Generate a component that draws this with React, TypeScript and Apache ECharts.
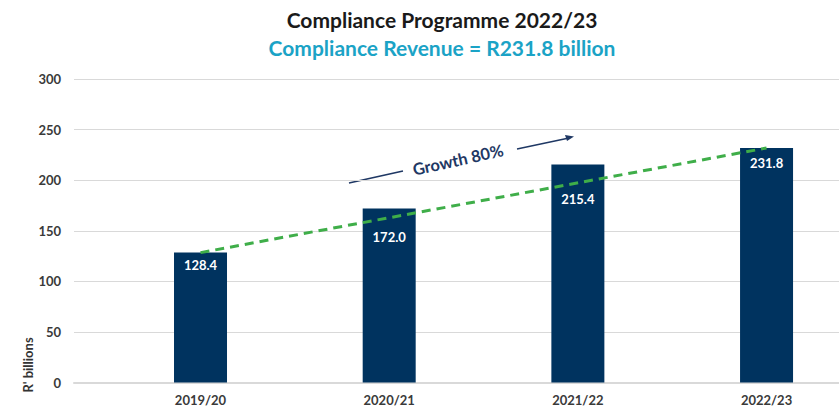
import React, { useEffect, useRef } from "react";
import * as echarts from "echarts";

const categories = ["2019/20", "2020/21", "2021/22", "2022/23"];
const revenue = [128.4, 172.0, 215.4, 231.8];
const yTicks = [0, 50, 100, 150, 200, 250, 300];
const titleText = "Compliance Programme 2022/23";
const subtitleText = "Compliance Revenue = R231.8 billion";
const growthText = "Growth 80%";
const yAxisName = "R' billions";

const FONT = "Lato, 'Open Sans', sans-serif";
const NAVY = "#00335f";
const ARROW = "#1f3864";
// label distance from bar top (styling, moved down where the trend line crosses)
const LABEL_DIST = [6, 22, 28, 9];

export default function App() {
  const ref = useRef<HTMLDivElement>(null);
  useEffect(() => {
    document.body.style.margin = "0";
    if (!ref.current) return;
    const chart = echarts.init(ref.current, null, { renderer: "svg" });
    const trend = [
      [0, revenue[0]],
      [revenue.length - 1, revenue[revenue.length - 1]],
    ];
    chart.setOption({
      animation: false,
      backgroundColor: "#ffffff",
      textStyle: { fontFamily: FONT },
      title: [
        {
          text: titleText,
          left: 437,
          top: 4,
          textAlign: "center",
          textStyle: { fontFamily: FONT, fontSize: 21, fontWeight: "bold", color: "#1a1a1a" },
        },
        {
          text: subtitleText,
          left: 437,
          top: 32,
          textAlign: "center",
          textStyle: { fontFamily: FONT, fontSize: 21, fontWeight: "bold", color: "#1ba3c6" },
        },
      ],
      grid: { left: 74, right: 0, top: 79, bottom: 26.5, containLabel: false },
      xAxis: {
        type: "value",
        min: -0.6705,
        max: 3.384,
        splitLine: { show: false },
        axisTick: { show: false },
        axisLine: { show: true, onZero: false, lineStyle: { color: "#d9d9d9", width: 2 } },
        axisLabel: {
          customValues: [0, 1, 2, 3],
          formatter: (v: number) => categories[Math.round(v)] ?? "",
          fontFamily: FONT,
          fontSize: 13,
          fontWeight: "bold",
          color: "#3a3a3a",
          margin: 11,
        },
      },
      yAxis: {
        type: "value",
        min: yTicks[0],
        max: yTicks[yTicks.length - 1],
        interval: 50,
        axisLine: { show: false },
        axisTick: { show: false },
        splitLine: { lineStyle: { color: "#d9d9d9", width: 1 } },
        axisLabel: {
          fontFamily: FONT,
          fontSize: 13,
          fontWeight: "bold",
          color: "#3a3a3a",
          margin: 13,
        },
      },
      series: [
        {
          type: "bar",
          data: revenue.map((v, i) => ({
            value: [i, v],
            label: { distance: LABEL_DIST[i] },
          })),
          barWidth: 53,
          itemStyle: { color: NAVY },
          label: {
            show: true,
            position: "insideTop",
            distance: 7,
            formatter: (p: any) => p.value[1].toFixed(1),
            color: "#ffffff",
            fontFamily: FONT,
            fontSize: 13,
            fontWeight: "bold",
          },
          z: 2,
        },
        {
          type: "line",
          data: trend,
          symbol: "none",
          lineStyle: { color: "#3fae49", width: 3, type: [9, 6] },
          z: 3,
        },
      ],
      graphic: [
        {
          type: "text",
          x: 28,
          y: 365,
          rotation: Math.PI / 2,
          style: {
            text: yAxisName,
            fontFamily: FONT,
            fontSize: 13,
            fontWeight: "bold",
            fill: "#333333",
            align: "center",
            verticalAlign: "middle",
          },
        },
        {
          type: "line",
          shape: { x1: 349, y1: 183, x2: 403, y2: 171 },
          style: { stroke: ARROW, lineWidth: 1.5 },
        },
        {
          type: "line",
          shape: { x1: 517, y1: 149, x2: 569, y2: 138 },
          style: { stroke: ARROW, lineWidth: 1.5 },
        },
        {
          type: "polygon",
          shape: { points: [[574, 136.5], [565, 135], [567, 141]] },
          style: { fill: ARROW },
        },
        {
          type: "text",
          x: 458,
          y: 160,
          rotation: (12.5 * Math.PI) / 180,
          style: {
            text: growthText,
            fontFamily: FONT,
            fontSize: 16.5,
            fontWeight: "bold",
            fill: ARROW,
            align: "center",
            verticalAlign: "middle",
          },
        },
      ],
    });
    return () => chart.dispose();
  }, []);
  return <div ref={ref} style={{ width: 839, height: 409 }} />;
}
